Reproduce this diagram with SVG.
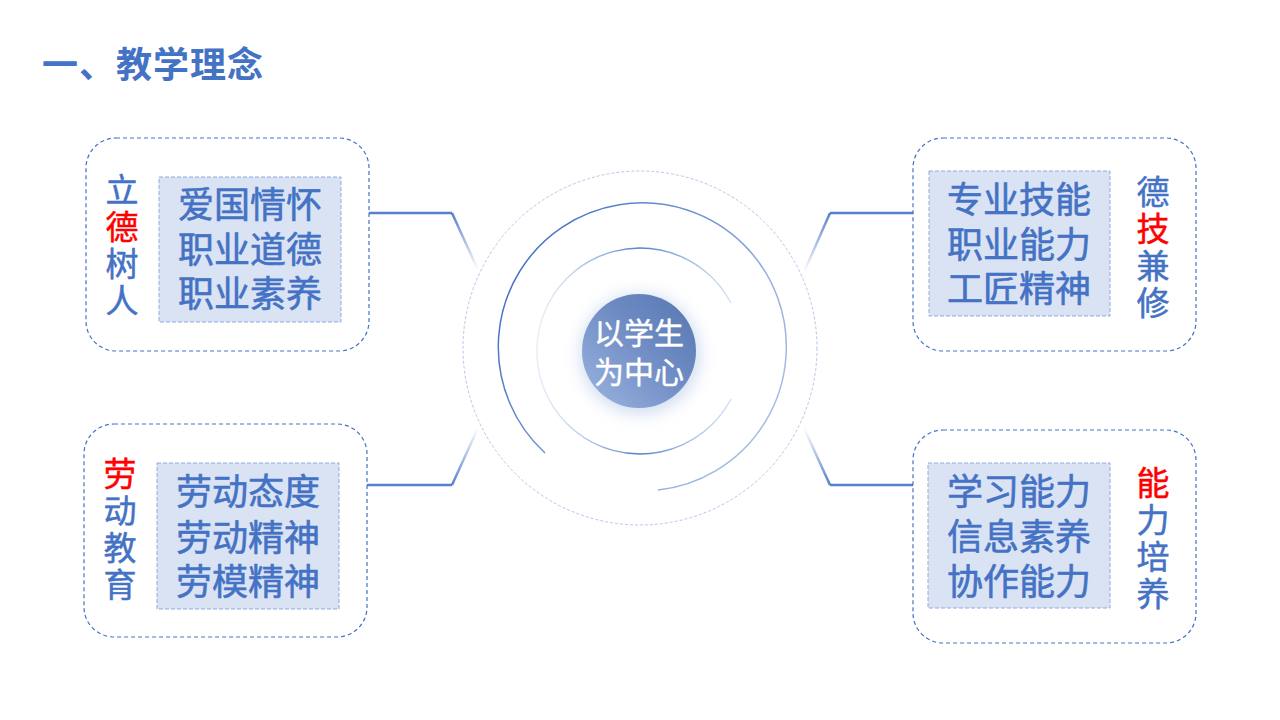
<svg xmlns="http://www.w3.org/2000/svg" width="1280" height="720" viewBox="0 0 1280 720">
<defs>
<style>
.outer{fill:#fff;stroke:#4472C4;stroke-width:1.2;stroke-dasharray:4 3}
.inner{fill:#DAE3F3;stroke:#8FAADC;stroke-width:1;stroke-dasharray:4 2}
.t{font-family:"Liberation Sans","Noto Sans CJK SC",sans-serif;fill:#4472C4;stroke:#4472C4;stroke-width:0.6;font-size:36px;text-anchor:middle}
.v{font-family:"Noto Sans CJK SC","Noto Sans",sans-serif;fill:#4472C4;stroke:#4472C4;stroke-width:0.5;font-size:33px;writing-mode:vertical-rl;letter-spacing:4px}
.r{fill:#FF0000;stroke:#FF0000}
.conn{fill:none;stroke-width:2.5}
</style>
<linearGradient id="gTL" gradientUnits="userSpaceOnUse" x1="452" y1="213" x2="478" y2="270"><stop offset="0" stop-color="#4472C4" stop-opacity="0.9"/><stop offset="1" stop-color="#4472C4" stop-opacity="0"/></linearGradient>
<linearGradient id="gBL" gradientUnits="userSpaceOnUse" x1="452" y1="485" x2="478" y2="428"><stop offset="0" stop-color="#4472C4" stop-opacity="0.9"/><stop offset="1" stop-color="#4472C4" stop-opacity="0"/></linearGradient>
<linearGradient id="gTR" gradientUnits="userSpaceOnUse" x1="830" y1="213" x2="804" y2="272"><stop offset="0" stop-color="#4472C4" stop-opacity="0.9"/><stop offset="1" stop-color="#4472C4" stop-opacity="0"/></linearGradient>
<linearGradient id="gBR" gradientUnits="userSpaceOnUse" x1="830" y1="485" x2="804" y2="428"><stop offset="0" stop-color="#4472C4" stop-opacity="0.9"/><stop offset="1" stop-color="#4472C4" stop-opacity="0"/></linearGradient>
<linearGradient id="gMid" gradientUnits="userSpaceOnUse" x1="500" y1="300" x2="780" y2="470"><stop offset="0" stop-color="#4472C4"/><stop offset="1" stop-color="#8FAADC" stop-opacity="0.7"/></linearGradient>
<linearGradient id="gIn" gradientUnits="userSpaceOnUse" x1="537" y1="350" x2="743" y2="350"><stop offset="0" stop-color="#B4C7E7" stop-opacity="0.3"/><stop offset="0.5" stop-color="#4472C4" stop-opacity="0.9"/><stop offset="1" stop-color="#B4C7E7" stop-opacity="0.4"/></linearGradient>
<linearGradient id="gSph" x1="0" y1="1" x2="1" y2="0"><stop offset="0" stop-color="#9DB5E0"/><stop offset="0.55" stop-color="#6F8CC4"/><stop offset="1" stop-color="#5676B0"/></linearGradient>
<filter id="glow" x="-50%" y="-50%" width="200%" height="200%"><feGaussianBlur stdDeviation="8"/></filter>
</defs>
<rect width="1280" height="720" fill="#fff"/>
<text x="42" y="78" font-family="Noto Sans CJK SC, sans-serif" font-size="36" font-weight="bold" letter-spacing="1" fill="#4472C4">一、教学理念</text>

<g id="connectors">
<path class="conn" d="M369 213H452" stroke="#4472C4" stroke-opacity="0.9"/>
<path class="conn" d="M452 213L478 270" stroke="url(#gTL)"/>
<path class="conn" d="M367 485H452" stroke="#4472C4" stroke-opacity="0.9"/>
<path class="conn" d="M452 485L478 428" stroke="url(#gBL)"/>
<path class="conn" d="M913 213H830" stroke="#4472C4" stroke-opacity="0.9"/>
<path class="conn" d="M830 213L804 272" stroke="url(#gTR)"/>
<path class="conn" d="M913 485H830" stroke="#4472C4" stroke-opacity="0.9"/>
<path class="conn" d="M830 485L804 428" stroke="url(#gBR)"/>
</g>

<g id="center">
<circle cx="640" cy="348" r="177" fill="none" stroke="#B4C7E7" stroke-width="1" stroke-dasharray="3 2"/>
<path d="M545 453 A144 144 0 1 1 658 490" fill="none" stroke="url(#gMid)" stroke-width="1.5"/>
<path d="M731 399 A103 103 0 1 1 731 303" fill="none" stroke="url(#gIn)" stroke-width="1.5"/>
<circle cx="640" cy="354" r="60" fill="#B4C7E7" opacity="0.6" filter="url(#glow)"/>
<circle cx="639" cy="351" r="57" fill="url(#gSph)"/>
<text font-family="Liberation Sans, Noto Sans CJK SC, sans-serif" font-size="30" fill="#fff" stroke="#fff" stroke-width="0.4" text-anchor="middle"><tspan x="639" y="344">以学生</tspan><tspan x="639" y="383">为中心</tspan></text>
</g>

<g id="node-tl">
<rect class="outer" x="86" y="138" width="283" height="213" rx="30"/>
<rect class="inner" x="159" y="177" width="182" height="145"/>
<text class="t"><tspan x="250" y="218">爱国情怀</tspan><tspan x="250" y="263">职业道德</tspan><tspan x="250" y="307">职业素养</tspan></text>
<text class="v" x="122" y="173">立<tspan class="r">德</tspan>树人</text>
</g>

<g id="node-bl">
<rect class="outer" x="84" y="424" width="283" height="213" rx="30"/>
<rect class="inner" x="157" y="463" width="182" height="146"/>
<text class="t"><tspan x="248" y="505">劳动态度</tspan><tspan x="248" y="551">劳动精神</tspan><tspan x="248" y="595">劳模精神</tspan></text>
<text class="v" x="120" y="457"><tspan class="r">劳</tspan>动教育</text>
</g>

<g id="node-tr">
<rect class="outer" x="913" y="138" width="283" height="213" rx="30"/>
<rect class="inner" x="929" y="171" width="181" height="145"/>
<text class="t"><tspan x="1019" y="213">专业技能</tspan><tspan x="1019" y="258">职业能力</tspan><tspan x="1019" y="302">工匠精神</tspan></text>
<text class="v" x="1153" y="175">德<tspan class="r">技</tspan>兼修</text>
</g>

<g id="node-br">
<rect class="outer" x="913" y="430" width="283" height="213" rx="30"/>
<rect class="inner" x="928" y="463" width="182" height="145"/>
<text class="t"><tspan x="1019" y="505">学习能力</tspan><tspan x="1019" y="550">信息素养</tspan><tspan x="1019" y="595">协作能力</tspan></text>
<text class="v" x="1153" y="466"><tspan class="r">能</tspan>力培养</text>
</g>
</svg>
